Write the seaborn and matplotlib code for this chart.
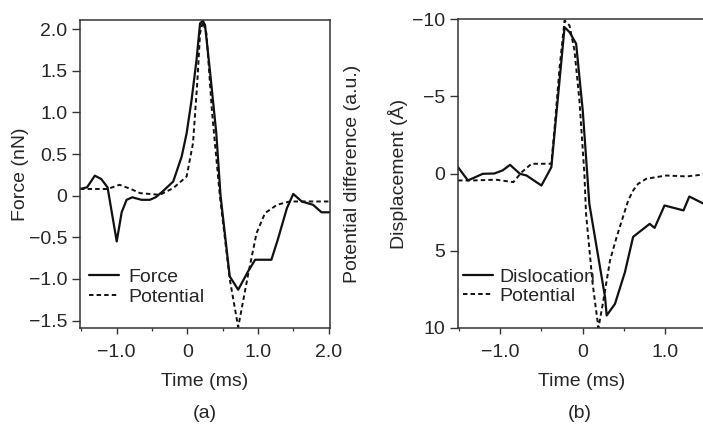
import numpy as np
import pandas as pd
import matplotlib
matplotlib.use("Agg")
import matplotlib.pyplot as plt
from matplotlib.ticker import MultipleLocator
import seaborn as sns

sns.set_style('ticks')
plt.rcParams['font.family'] = ['Liberation Sans', 'DejaVu Sans']
plt.rcParams['font.size'] = 14

# ── data ─────────────────────────────────────────────────────────────
# (a) force vs. potential
force_t = [-1.52, -1.42, -1.31, -1.22, -1.13, -1.0, -0.93, -0.86, -0.78, -0.65,
           -0.53, -0.45, -0.35, -0.2, -0.08, -0.01, 0.06, 0.13, 0.18, 0.22,
           0.25, 0.32, 0.41, 0.47, 0.6, 0.72, 0.86, 0.96, 1.19, 1.28,
           1.41, 1.5, 1.62, 1.78, 1.9, 2.02]
force = [0.08, 0.1, 0.24, 0.2, 0.1, -0.55, -0.2, -0.05, -0.02, -0.05,
         -0.05, -0.02, 0.05, 0.17, 0.47, 0.75, 1.15, 1.63, 2.07, 2.1,
         2.05, 1.5, 0.75, 0.0, -0.97, -1.13, -0.91, -0.77, -0.77, -0.53,
         -0.15, 0.02, -0.07, -0.11, -0.2, -0.2]

pot_a_t = [-1.52, -1.13, -0.96, -0.8, -0.67, -0.39, -0.2, -0.01, 0.08, 0.14,
           0.18, 0.22, 0.27, 0.35, 0.46, 0.6, 0.72, 0.86, 0.98, 1.1,
           1.27, 1.45, 2.02]
pot_a = [0.08, 0.08, 0.13, 0.08, 0.03, 0.01, 0.09, 0.23, 0.63, 1.35,
         1.95, 2.09, 1.95, 1.0, 0.0, -1.0, -1.58, -0.95, -0.45, -0.21,
         -0.11, -0.07, -0.07]

# (b) dislocation displacement vs. potential
disl_t = [-1.51, -1.39, -1.21, -1.07, -0.97, -0.88, -0.76, -0.68, -0.5, -0.38,
          -0.3, -0.22, -0.16, -0.08, 0.0, 0.08, 0.27, 0.29, 0.39, 0.51,
          0.61, 0.81, 0.87, 0.99, 1.22, 1.29, 1.47]
disl = [-0.41, 0.45, 0.02, 0.0, -0.2, -0.56, 0.02, 0.13, 0.78, -0.41,
        -4.94, -9.47, -9.15, -8.4, -4.08, 1.97, 8.0, 9.19, 8.44, 6.4,
        4.1, 3.26, 3.52, 2.07, 2.39, 1.49, 1.97]

pot_b_t = [-1.51, -1.33, -1.05, -0.84, -0.74, -0.62, -0.38, -0.34, -0.28, -0.22,
           -0.16, -0.1, -0.04, 0.02, 0.04, 0.12, 0.19, 0.25, 0.33, 0.41,
           0.55, 0.61, 0.67, 0.77, 1.01, 1.26, 1.47]
pot_b = [0.45, 0.45, 0.4, 0.56, -0.08, -0.63, -0.63, -3.0, -6.88, -9.9,
         -9.58, -7.96, -4.72, 0.02, 2.61, 7.14, 10.0, 8.22, 5.63, 4.12,
         1.75, 1.1, 0.67, 0.34, 0.13, 0.19, 0.06]

a_yticks = [2.0, 1.5, 1.0, 0.5, 0, -0.5, -1.0, -1.5]
a_ylabels = ['2.0', '1.5', '1.0', '0.5', '0', '\u22120.5', '\u22121.0', '\u22121.5']
a_xticks = [-1.0, 0, 1.0, 2.0]
a_xlabels = ['\u22121.0', '0', '1.0', '2.0']
b_yticks = [-10, -5, 0, 5, 10]
b_ylabels = ['\u221210', '\u22125', '0', '5', '10']
b_xticks = [-1.0, 0, 1.0]
b_xlabels = ['\u22121.0', '0', '1.0']

INK = '#111111'
DASH = (0, (2.3, 1.6))
FS = 14

fig = plt.figure(figsize=(7.03, 4.24), dpi=100)
W, H = 703, 424
ax_a = fig.add_axes([80 / W, (H - 328) / H, 250 / W, 308 / H])
ax_b = fig.add_axes([458 / W, (H - 328) / H, 247 / W, 309 / H])


def style_axes(ax):
    for s in ax.spines.values():
        s.set_linewidth(1.1)
        s.set_color('#333333')
    ax.tick_params(axis='y', which='major', direction='out', length=5.5,
                   width=1.0, color='#333333', labelsize=FS, pad=3.5)
    ax.tick_params(axis='x', which='major', direction='out', length=4.5,
                   width=1.0, color='#333333', labelsize=FS, pad=7)
    ax.tick_params(which='minor', direction='out', length=2.5, width=0.9,
                   color='#333333')
    ax.xaxis.set_minor_locator(MultipleLocator(0.5))


# ── panel (a) ────────────────────────────────────────────────────────
sns.lineplot(x=force_t, y=force, ax=ax_a, color=INK, lw=1.6, label='Force',
             sort=False)
sns.lineplot(x=pot_a_t, y=pot_a, ax=ax_a, color=INK, lw=1.4, linestyle=DASH,
             label='Potential', sort=False)
ax_a.set_xlim(-1.52, 2.02)
ax_a.set_ylim(-1.59, 2.11)
ax_a.set_yticks(a_yticks, a_ylabels)
ax_a.set_xticks(a_xticks, a_xlabels)
ax_a.set_xlabel('Time (ms)', fontsize=FS, labelpad=9)
ax_a.set_ylabel('Force (nN)', fontsize=FS, labelpad=0)
style_axes(ax_a)
ax_a.legend(loc='center left', bbox_to_anchor=(0.036, 0.133), frameon=False,
            borderpad=0, borderaxespad=0, handlelength=1.55, handletextpad=0.45,
            labelspacing=0.15, fontsize=FS)

twin = ax_a.twinx()
twin.set_yticks([])
twin.set_ylabel('Potential difference (a.u.)', fontsize=FS, labelpad=10)
for s in twin.spines.values():
    s.set_visible(False)

# ── panel (b) ────────────────────────────────────────────────────────
sns.lineplot(x=disl_t, y=disl, ax=ax_b, color=INK, lw=1.6, label='Dislocation',
             sort=False)
sns.lineplot(x=pot_b_t, y=pot_b, ax=ax_b, color=INK, lw=1.4, linestyle=DASH,
             label='Potential', sort=False)
ax_b.set_xlim(-1.51, 1.48)
ax_b.set_ylim(10, -10)
ax_b.set_yticks(b_yticks, b_ylabels)
ax_b.set_xticks(b_xticks, b_xlabels)
ax_b.set_xlabel('Time (ms)', fontsize=FS, labelpad=9)
ax_b.set_ylabel('Displacement (\u00c5)', fontsize=FS, labelpad=3)
ax_b.spines['right'].set_visible(False)
style_axes(ax_b)
ax_b.legend(loc='center left', bbox_to_anchor=(0.02, 0.134), frameon=False,
            borderpad=0, borderaxespad=0, handlelength=1.55, handletextpad=0.3,
            labelspacing=0.05, fontsize=FS)

fig.text(205 / W, 1 - 413 / H, '(a)', ha='center', va='center', fontsize=FS)
fig.text(580 / W, 1 - 413 / H, '(b)', ha='center', va='center', fontsize=FS)

fig.savefig('out.png', dpi=100)
